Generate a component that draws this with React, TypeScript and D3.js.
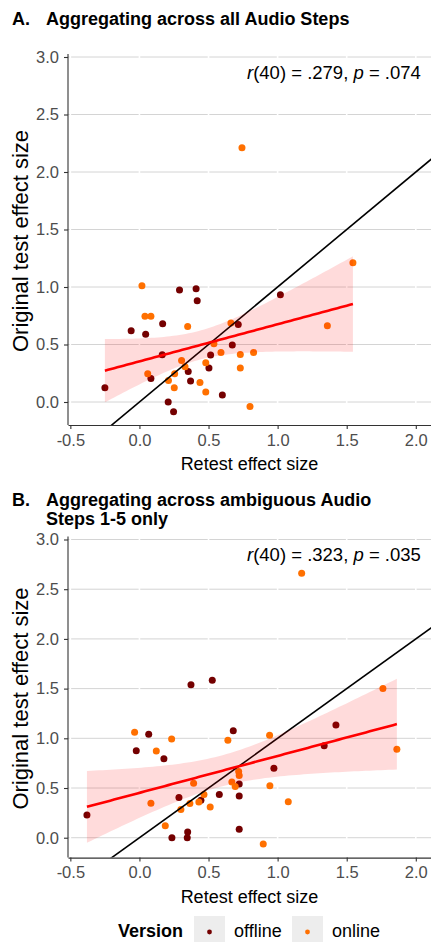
import React, { useEffect, useRef } from "react";
import * as d3 from "d3";

// Panel A: all audio steps
const retestA = [
  -0.25, -0.06, 0.045, 0.168, 0.29, 0.41, 0.418, 0.165, 0.083, 0.353, 0.37, 0.503, 0.6, 0.208, 0.247, 0.515, 0.715, 0.672, 1.02,
  0.018, 0.04, 0.083, 0.349, 0.06, 0.305, 0.33, 0.255, 0.21, 0.252, 0.438, 0.48, 0.48, 0.539, 0.59, 0.662, 0.73, 0.73, 0.826, 0.8, 1.545, 1.36, 0.742
];
const originalA = [
  0.125, 0.62, 0.59, 0.68, 0.975, 0.985, 0.88, 0.41, 0.205, 0.266, 0.183, 0.295, 0.06, 0.0, -0.085, 0.408, 0.675, 0.495, 0.933,
  1.01, 0.745, 0.745, 0.657, 0.246, 0.36, 0.307, 0.246, 0.188, 0.124, 0.17, 0.087, 0.342, 0.507, 0.43, 0.687, 0.414, 0.295, 0.43, -0.04, 1.21, 0.664, 2.21
];
const versionA = [
  ...Array(19).fill("offline"),
  ...Array(23).fill("online")
];

// Panel B: ambiguous steps 1-5
const retestB = [
  -0.38, 0.067, -0.023, 0.177, 0.373, 0.527, 0.286, 0.445, 0.578, 0.235, 0.349, 0.346, 0.679, 0.722, 0.722, 0.722, 1.422, 1.337, 0.973,
  -0.035, 0.122, 0.233, 0.392, 0.083, 0.3, 0.365, 0.43, 0.467, 0.512, 0.187, 0.64, 0.718, 0.722, 0.669, 0.693, 1.174, 0.942, 1.762, 1.863, 0.944, 1.077, 0.896
];
const originalB = [
  0.228, 1.04, 0.875, 0.795, 1.54, 1.585, 0.405, 0.378, 0.436, 0.0, 0.057, 0.0, 1.075, 0.54, 0.42, 0.085, 1.133, 0.925, 0.7,
  1.06, 0.872, 0.993, 0.547, 0.346, 0.284, 0.344, 0.36, 0.436, 0.309, 0.12, 0.98, 0.665, 0.626, 0.56, 0.516, 2.66, 1.03, 1.5, 0.889, 0.523, 0.362, -0.063
];
const versionB = [
  ...Array(19).fill("offline"),
  ...Array(23).fill("online")
];

const xTicks = [-0.5, 0, 0.5, 1, 1.5, 2];
const yTicks = [0, 0.5, 1, 1.5, 2, 2.5, 3];
const versions = ["offline", "online"];
const colors = ["#740000", "#ff7000"];

const FONT = "'Liberation Sans', Arial, Helvetica, sans-serif";

// linear fit + 95% CI (what geom_smooth(method = "lm") shows)
function lmFit(xs: number[], ys: number[]) {
  const n = xs.length;
  const mx = d3.mean(xs)!;
  const my = d3.mean(ys)!;
  let sxx = 0, sxy = 0;
  for (let i = 0; i < n; i++) {
    sxx += (xs[i] - mx) ** 2;
    sxy += (xs[i] - mx) * (ys[i] - my);
  }
  const b = sxy / sxx;
  const a = my - b * mx;
  let sse = 0;
  for (let i = 0; i < n; i++) sse += (ys[i] - a - b * xs[i]) ** 2;
  const s = Math.sqrt(sse / (n - 2));
  const t = 2.021;
  const [lo, hi] = d3.extent(xs) as [number, number];
  return d3.range(0, 81).map(k => {
    const x = lo + ((hi - lo) * k) / 80;
    const fit = a + b * x;
    const se = s * Math.sqrt(1 / n + (x - mx) ** 2 / sxx);
    return { x, fit, lo: fit - t * se, hi: fit + t * se };
  });
}

type Panel = {
  id: string;
  xs: number[];
  ys: number[];
  vs: string[];
  top: number;
  bottom: number;
  letter: string;
  titleLines: string[];
  titleY: number;
  stat: [string, string];
  statY: number;
};

function App() {
  const ref = useRef<SVGSVGElement>(null);

  useEffect(() => {
    const svg = d3.select(ref.current);
    svg.selectAll("*").remove();

    const panels: Panel[] = [
      {
        id: "a", xs: retestA, ys: originalA, vs: versionA, top: 57, bottom: 425,
        letter: "A.", titleLines: ["Aggregating across all Audio Steps"], titleY: 25,
        stat: [".279", ".074"], statY: 79
      },
      {
        id: "b", xs: retestB, ys: originalB, vs: versionB, top: 539.5, bottom: 857.6,
        letter: "B.", titleLines: ["Aggregating across ambiguous Audio", "Steps 1-5 only"], titleY: 506,
        stat: [".323", ".035"], statY: 561
      }
    ];

    const left = 68;
    const right = 431;
    const color = d3.scaleOrdinal<string, string>().domain(versions).range(colors);

    panels.forEach(p => {
      const x = d3.scaleLinear().domain([-0.517, 2.11]).range([left, right]);
      const y = d3.scaleLinear().domain([-0.2, 3.0]).range([p.bottom, p.top]);
      const g = svg.append("g");

      g.append("clipPath").attr("id", "clip-" + p.id)
        .append("rect").attr("x", left).attr("y", p.top - 3)
        .attr("width", right - left).attr("height", p.bottom - p.top + 3);

      // grid
      g.selectAll(".hgrid").data(yTicks).enter().append("line")
        .attr("x1", left).attr("x2", right)
        .attr("y1", d => y(d)).attr("y2", d => y(d))
        .attr("stroke", "#d4d4d4").attr("stroke-width", 1);
      g.selectAll(".vgrid").data(xTicks).enter().append("line")
        .attr("x1", d => x(d)).attr("x2", d => x(d))
        .attr("y1", p.top - 3).attr("y2", p.bottom)
        .attr("stroke", "#ffffff").attr("stroke-width", 1.6);

      // points
      g.selectAll("circle").data(p.xs).enter().append("circle")
        .attr("cx", d => x(d))
        .attr("cy", (d, i) => y(p.ys[i]))
        .attr("r", 3.5)
        .attr("fill", (d, i) => color(p.vs[i]));

      // identity line
      g.append("line")
        .attr("clip-path", `url(#clip-${p.id})`)
        .attr("x1", x(-0.6)).attr("y1", y(-0.6))
        .attr("x2", x(3)).attr("y2", y(3))
        .attr("stroke", "#000").attr("stroke-width", 1.6);

      // smooth
      const fit = lmFit(p.xs, p.ys);
      g.append("path")
        .attr("d", d3.area<any>().x(d => x(d.x)).y0(d => y(d.lo)).y1(d => y(d.hi))(fit))
        .attr("fill", "rgba(255,0,0,0.14)");
      g.append("path")
        .attr("d", d3.line<any>().x(d => x(d.x)).y(d => y(d.fit))(fit))
        .attr("fill", "none").attr("stroke", "#ff0000").attr("stroke-width", 2.6);

      // axes
      const xAxis = d3.axisBottom(x).tickValues(xTicks).tickFormat(d => (+d).toFixed(1))
        .tickSize(4).tickSizeOuter(0).tickPadding(5);
      const yAxis = d3.axisLeft(y).tickValues(yTicks).tickFormat(d => (+d).toFixed(1))
        .tickSize(4).tickSizeOuter(0).tickPadding(5);

      const gx = g.append("g").attr("transform", `translate(0,${p.bottom})`).call(xAxis);
      const gy = g.append("g").attr("transform", `translate(${left},0)`).call(yAxis);
      [gx, gy].forEach(ax => {
        ax.select(".domain").attr("stroke", "#333").attr("stroke-width", 1.1);
        ax.selectAll(".tick line").attr("stroke", "#333").attr("stroke-width", 1.1);
        ax.selectAll(".tick text")
          .attr("fill", "#4d4d4d").style("font-size", "16.5px").style("font-family", FONT);
      });
      gy.select(".domain").attr("d", `M0,${p.bottom}V${p.top - 3}`);

      // axis titles
      g.append("text")
        .attr("x", (left + right) / 2).attr("y", p.bottom + 45)
        .attr("text-anchor", "middle")
        .style("font-family", FONT).style("font-size", "18px")
        .text("Retest effect size");
      g.append("text")
        .attr("transform", `translate(28,${(p.top + p.bottom) / 2}) rotate(-90)`)
        .attr("text-anchor", "middle")
        .style("font-family", FONT).style("font-size", "22px")
        .text("Original test effect size");

      // title
      g.append("text").attr("x", 12).attr("y", p.titleY)
        .style("font-family", FONT).style("font-size", "18px").style("font-weight", "bold")
        .text(p.letter);
      p.titleLines.forEach((line, i) => {
        g.append("text").attr("x", 46).attr("y", p.titleY + i * 19)
          .style("font-family", FONT).style("font-size", "18px").style("font-weight", "bold")
          .text(line);
      });

      // stat annotation
      const st = g.append("text").attr("x", 247).attr("y", p.statY)
        .style("font-family", FONT).style("font-size", "18.5px");
      st.append("tspan").style("font-style", "italic").text("r");
      st.append("tspan").text(`(40) = ${p.stat[0]}, `);
      st.append("tspan").style("font-style", "italic").text("p");
      st.append("tspan").text(` = ${p.stat[1]}`);
    });

    // legend
    const lg = svg.append("g");
    lg.append("text").attr("x", 118).attr("y", 937)
      .style("font-family", FONT).style("font-size", "18px").style("font-weight", "bold")
      .text("Version");
    const keyX = [194, 292];
    versions.forEach((v, i) => {
      lg.append("rect").attr("x", keyX[i]).attr("y", 916).attr("width", 31).attr("height", 31)
        .attr("fill", "#ededed");
      lg.append("circle").attr("cx", keyX[i] + 15.5).attr("cy", 932).attr("r", 2.4)
        .attr("fill", color(v));
      lg.append("text").attr("x", keyX[i] + 40).attr("y", 937)
        .style("font-family", FONT).style("font-size", "18px")
        .text(v);
    });
  }, []);

  return (
    <svg
      ref={ref}
      width={431}
      height={942}
      style={{ position: "absolute", left: 0, top: 0, background: "#fff" }}
    />
  );
}

export default App;
